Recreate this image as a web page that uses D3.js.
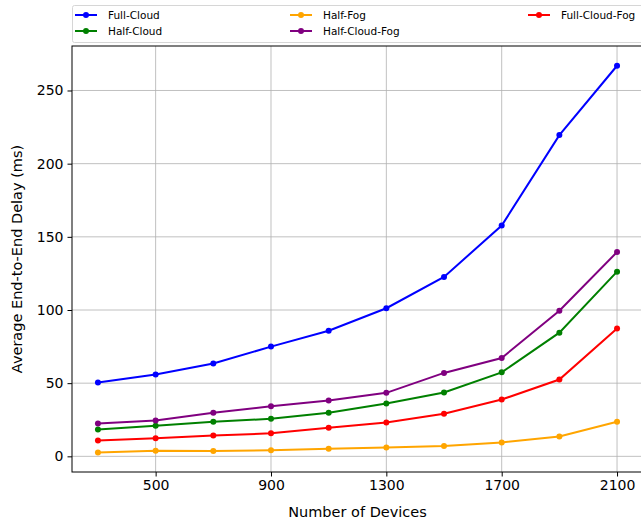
<!DOCTYPE html>
<html>
<head>
<meta charset="utf-8">
<script src="https://cdn.jsdelivr.net/npm/d3@7"></script>
<style>
	body { margin: 0; background: #fff; }
	svg { font-family: "DejaVu Sans", sans-serif; }
	.grid line { stroke: #b0b0b0; stroke-width: 0.8; }
</style>
</head>
<body>
<svg id="chart" width="641" height="523"></svg>
<script>
(function(d3) {
	'use strict';

	var devices = [300, 500, 700, 900, 1100, 1300, 1500, 1700, 1900, 2100];
	var xTicks = [500, 900, 1300, 1700, 2100];
	var yTicks = [0, 50, 100, 150, 200, 250];

	var fullCloud = [50.4, 55.9, 63.4, 75.0, 85.8, 101.2, 122.6, 157.7, 219.5, 266.9];
	var halfCloud = [18.4, 20.9, 23.6, 25.7, 29.8, 36.1, 43.6, 57.4, 84.5, 126.2];
	var halfFog = [2.6, 3.9, 3.7, 4.1, 5.2, 6.1, 7.1, 9.5, 13.6, 23.6];
	var halfCloudFog = [22.5, 24.5, 29.8, 34.2, 38.1, 43.4, 57.0, 67.2, 99.5, 139.6];
	var fullCloudFog = [10.9, 12.3, 14.3, 15.7, 19.6, 23.2, 29.1, 38.8, 52.5, 87.4];

	var seriesNames = ['Full-Cloud', 'Half-Cloud', 'Half-Fog', 'Half-Cloud-Fog', 'Full-Cloud-Fog'];
	var seriesValues = [fullCloud, halfCloud, halfFog, halfCloudFog, fullCloudFog];
	var seriesColors = ['#0000ff', '#008000', '#ffa500', '#800080', '#ff0000'];

	var left = 72, right = 643, top = 46, bottom = 472;
	var svg = d3.select('#chart');

	var x = d3.scaleLinear().domain([210, 2190]).range([left, right]);
	var y = d3.scaleLinear().domain([-10.7, 280.4]).range([bottom, top]);

	/** grid */
	var grid = svg.append('g').attr('class', 'grid');
	grid.selectAll('.gx').data(xTicks).enter().append('line')
		.attr('x1', x).attr('x2', x).attr('y1', top).attr('y2', bottom);
	grid.selectAll('.gy').data(yTicks).enter().append('line')
		.attr('x1', left).attr('x2', right).attr('y1', y).attr('y2', y);

	/** axes */
	var xAxis = svg.append('g').attr('transform', 'translate(0,' + bottom + ')')
		.call(d3.axisBottom(x).tickValues(xTicks).tickFormat(d3.format('d')).tickSize(4.5).tickPadding(4));
	var yAxis = svg.append('g').attr('transform', 'translate(' + left + ',0)')
		.call(d3.axisLeft(y).tickValues(yTicks).tickFormat(d3.format('d')).tickSize(4.5).tickPadding(4));
	[xAxis, yAxis].forEach(function(a) {
		a.select('.domain').remove();
		a.selectAll('text').attr('font-size', 14).attr('font-family', '"DejaVu Sans", sans-serif').attr('fill', '#000');
		a.selectAll('line').attr('stroke', '#000').attr('stroke-width', 1);
	});

	/** series */
	var line = d3.line().x(function(d, i) { return x(devices[i]); }).y(function(d) { return y(d); });
	seriesValues.forEach(function(values, s) {
		var g = svg.append('g');
		g.append('path').datum(values).attr('d', line).attr('fill', 'none')
			.attr('stroke', seriesColors[s]).attr('stroke-width', 2);
		g.selectAll('circle').data(values).enter().append('circle')
			.attr('cx', function(d, i) { return x(devices[i]); }).attr('cy', y)
			.attr('r', 3).attr('fill', seriesColors[s]);
	});

	/** frame */
	svg.append('rect').attr('x', left).attr('y', top).attr('width', right - left).attr('height', bottom - top)
		.attr('fill', 'none').attr('stroke', '#000').attr('stroke-width', 1);

	/** labels */
	svg.append('text').attr('x', (left + right) / 2).attr('y', 517).attr('text-anchor', 'middle')
		.attr('font-size', 14.5).text('Number of Devices');
	svg.append('text').attr('transform', 'translate(22,' + ((top + bottom) / 2) + ') rotate(-90)')
		.attr('text-anchor', 'middle').attr('font-size', 14.5).text('Average End-to-End Delay (ms)');

	/** legend */
	svg.append('rect').attr('x', 72.5).attr('y', 5.5).attr('width', 575).attr('height', 37).attr('rx', 2)
		.attr('fill', '#fff').attr('stroke', '#d6d6d6').attr('stroke-width', 1);
	var colX = [75, 290, 528], rowY = [15, 31];
	seriesNames.forEach(function(name, i) {
		var cx = colX[Math.floor(i / 2)], cy = rowY[i % 2];
		if (i === 4) { cx = colX[2]; cy = rowY[0]; }
		var g = svg.append('g').attr('transform', 'translate(' + cx + ',' + cy + ')');
		g.append('line').attr('x1', 0).attr('x2', 22).attr('stroke', seriesColors[i]).attr('stroke-width', 2);
		g.append('circle').attr('cx', 11).attr('r', 3).attr('fill', seriesColors[i]);
		g.append('text').attr('x', 33).attr('dy', '0.35em').attr('font-size', 10.5).text(name);
	});
})(d3);
</script>
</body>
</html>
